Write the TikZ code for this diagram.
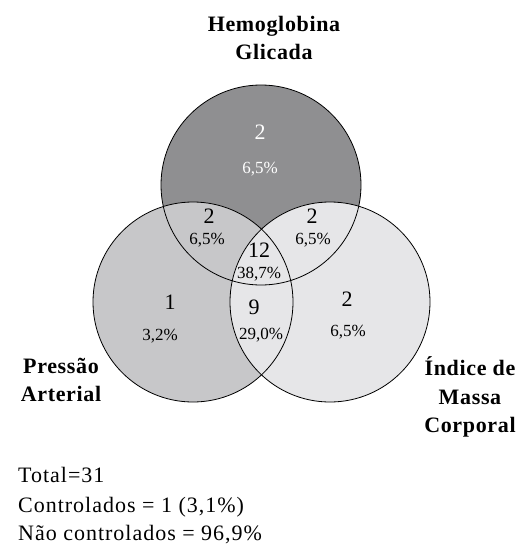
\documentclass[tikz,border=0pt]{standalone}
\usepackage{fontspec}
\setmainfont{Liberation Serif}
\newfontfamily\labfont[LetterSpace=3]{Liberation Serif}
\newfontfamily\notefont[LetterSpace=4.5]{Liberation Serif}
\usetikzlibrary{positioning}
\definecolor{hbcol}{HTML}{8F8F91}
\definecolor{pacol}{HTML}{C7C7C9}
\definecolor{imccol}{HTML}{E6E6E8}
\tikzset{
  ring/.style={draw=black, line width=0.8pt},
  num/.style={font=\fontsize{22}{24}\selectfont, inner sep=0pt},
  pct/.style={font=\fontsize{17}{18}\selectfont, inner sep=0pt},
  grp/.style={font=\labfont\bfseries\fontsize{22}{28.5}\selectfont, align=center, inner sep=0pt},
  note/.style={font=\notefont\fontsize{22}{24}\selectfont, inner sep=0pt, anchor=base west},
}
\begin{document}
\begin{tikzpicture}[x=1pt,y=-1pt]
  \useasboundingbox (0,0) rectangle (523,544);
  \def\r{100}
  \coordinate (HB) at (261,185);
  \coordinate (PA) at (193,302);
  \coordinate (IMC) at (330,302);

  % fills, back to front
  \fill[hbcol] (HB) circle (\r);
  \fill[pacol] (PA) circle (\r);
  \fill[imccol] (IMC) circle (\r);
  \draw[ring] (HB) circle (\r);
  \draw[ring] (PA) circle (\r);
  \draw[ring] (IMC) circle (\r);

  \node[grp] (hblab) at (274,38) {Hemoglobina\\Glicada};
  \node[grp] (palab) at (61,380) {Pressão\\Arterial};
  \node[grp] (imclab) at (470,397) {Índice de\\Massa\\Corporal};

  \node[num,white] (hbn) at (260,132) {2};
  \node[pct,white] (hbp) at (260,169) {6,5\%};
  \node[num] (hpn) at (209,216) {2};
  \node[pct] (hpp) at (207,240) {6,5\%};
  \node[num] (hin) at (312,216) {2};
  \node[pct] (hip) at (313,240) {6,5\%};
  \node[num] (alln) at (259,250) {12};
  \node[pct] (allp) at (259,274) {38,7\%};
  \node[num] (pin) at (254,307) {9};
  \node[pct] (pip) at (261,335) {29,0\%};
  \node[num] (pan) at (170,302) {1};
  \node[pct] (pap) at (160,336) {3,2\%};
  \node[num] (imcn) at (347,299) {2};
  \node[pct] (imcp) at (348,332) {6,5\%};

  \node[note] (tot) at (18,482) {Total=31};
  \node[note] (ctl) at (18,512) {Controlados = 1 (3,1\%)};
  \node[note] (nctl) at (18,540) {Não controlados = 96,9\%};
\end{tikzpicture}
\end{document}
